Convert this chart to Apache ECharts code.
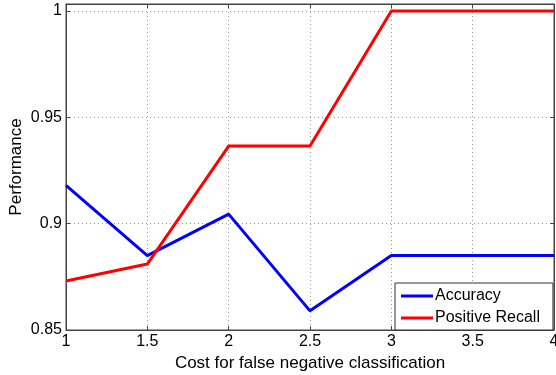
<!DOCTYPE html>
<html><head><meta charset="utf-8">
<script src="https://cdn.jsdelivr.net/npm/echarts@6/dist/echarts.min.js"></script>
<style>html,body{margin:0;padding:0;background:#fff}#c{width:556px;height:375px}</style>
</head><body><div id="c"></div>
<script>
const costs = [1, 1.5, 2, 2.5, 3, 3.5, 4];
const accuracy = [0.918, 0.885, 0.9045, 0.859, 0.885, 0.885, 0.885];
const positiveRecall = [0.873, 0.881, 0.9365, 0.9365, 1.0, 1.0, 1.0];
const yTicks = [0.85, 0.9, 0.95, 1];
const xLabel = 'Cost for false negative classification';
const yLabel = 'Performance';

const font = 'Liberation Sans, Arial, sans-serif';
const chart = echarts.init(document.getElementById('c'));
const fmt = v => {
  if (Math.abs(v - 1) < 1e-9) return '1';
  return String(+v.toFixed(4));
};
chart.setOption({
  animation: false,
  backgroundColor: '#fff',
  grid: {left: 66, right: 2, top: 4, bottom: 45, show: true, borderColor: '#444', borderWidth: 1,
         containLabel: false, outerBoundsMode: 'none'},
  legend: {
    orient: 'vertical', left: 395, top: 283,
    data: ['Accuracy', 'Positive Recall'],
    icon: 'rect', itemWidth: 32, itemHeight: 3, itemGap: 6,
    padding: [5, 13, 4, 6],
    borderColor: '#333', borderWidth: 1, backgroundColor: '#fff',
    textStyle: {fontFamily: font, fontSize: 16, color: '#000', padding: [0, 0, 0, -3]}
  },
  xAxis: [{
    type: 'value', min: 1, max: 4, interval: 0.5,
    name: xLabel, nameLocation: 'middle', nameGap: 25, nameMoveOverlap: false,
    nameTextStyle: {fontFamily: font, fontSize: 17, color: '#000'},
    axisLine: {show: true, onZero: false, lineStyle: {color: '#444'}},
    axisTick: {show: true, inside: true, length: 4, lineStyle: {color: '#444'}},
    axisLabel: {fontFamily: font, fontSize: 16, color: '#000', margin: 4, formatter: fmt},
    splitLine: {show: true, lineStyle: {color: '#999', type: [1, 3], width: 1}}
  }, {
    type: 'value', min: 1, max: 4, interval: 0.5, position: 'top',
    axisLine: {show: true, lineStyle: {color: '#444'}},
    axisTick: {show: true, inside: true, length: 4, lineStyle: {color: '#444'}},
    axisLabel: {show: false}, splitLine: {show: false}
  }],
  yAxis: [{
    type: 'value', min: 0.85, max: 1.0033, interval: 0.05,
    name: yLabel, nameLocation: 'middle', nameGap: 41, nameMoveOverlap: false,
    nameTextStyle: {fontFamily: font, fontSize: 17, color: '#000'},
    axisLine: {show: true, onZero: false, lineStyle: {color: '#444'}},
    axisTick: {show: true, inside: true, length: 4, lineStyle: {color: '#444'}},
    axisLabel: {fontFamily: font, fontSize: 16, color: '#000', margin: 4, showMaxLabel: false,
      formatter: v => yTicks.some(t => Math.abs(t - v) < 1e-9) ? fmt(v) : ''},
    splitLine: {show: true, lineStyle: {color: '#999', type: [1, 3], width: 1}}
  }, {
    type: 'value', min: 0.85, max: 1.0033, interval: 0.05, position: 'right',
    axisLine: {show: true, lineStyle: {color: '#444'}},
    axisTick: {show: true, inside: true, length: 4, lineStyle: {color: '#444'}},
    axisLabel: {show: false}, splitLine: {show: false}
  }],
  series: [
    {name: 'Accuracy', type: 'line', data: costs.map((c, i) => [c, accuracy[i]]),
     showSymbol: false, lineStyle: {color: '#0000ff', width: 3}, itemStyle: {color: '#0000ff'}},
    {name: 'Positive Recall', type: 'line', data: costs.map((c, i) => [c, positiveRecall[i]]),
     showSymbol: false, lineStyle: {color: '#ff0000', width: 3}, itemStyle: {color: '#ff0000'}}
  ]
});
</script></body></html>
